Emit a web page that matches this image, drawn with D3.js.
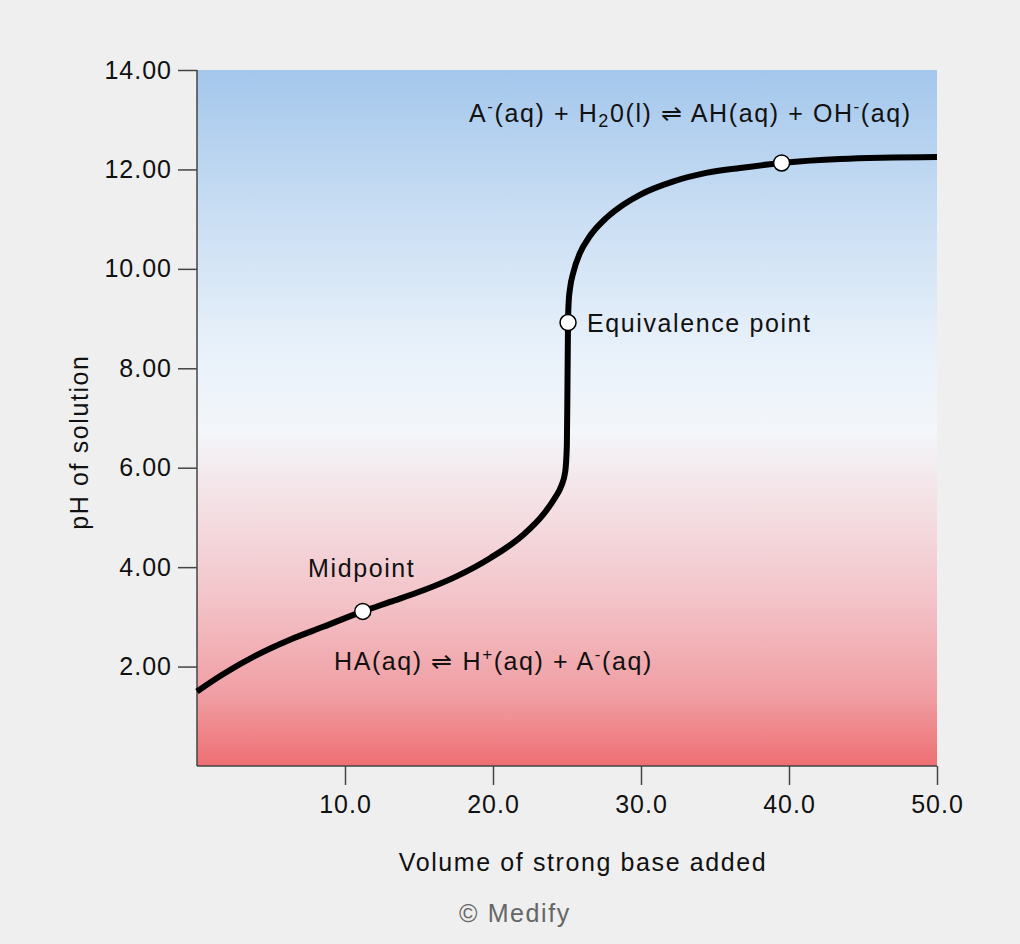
<!DOCTYPE html>
<html>
<head>
<meta charset="utf-8">
<script src="https://cdn.jsdelivr.net/npm/d3@7"></script>
<style>
html,body{margin:0;padding:0;background:#efefef;}
svg{display:block;}
text{font-family:"Liberation Sans","Helvetica Neue",Arial,sans-serif;fill:#111;}
</style>
</head>
<body>
<svg id="chart" width="1020" height="944"></svg>
<script>
// Data
const volume = [0, 1.78, 4.03, 6.28, 8.53, 11.2, 13.04, 15.3, 17.5, 19.8, 22.05, 23.4, 24.2, 24.6, 24.88, 24.99, 25.03, 25.07, 25.11, 25.2, 25.43, 25.88, 26.55, 27.68, 28.8, 29.93, 32.2, 34.4, 36.7, 39.5, 43.45, 50];
const pH     = [1.50, 1.85, 2.23, 2.54, 2.80, 3.11, 3.30, 3.535, 3.81, 4.18, 4.65, 5.06, 5.40, 5.62, 5.92, 6.45, 7.6, 8.92, 9.32, 9.60, 9.93, 10.32, 10.66, 11.03, 11.29, 11.49, 11.76, 11.93, 12.03, 12.13, 12.21, 12.25];
const markedPoints = [{v:11.2, p:3.11, label:"Midpoint"}, {v:25.07, p:8.92, label:"Equivalence point"}, {v:39.5, p:12.13, label:""}];
const xTicks = [10, 20, 30, 40, 50];
const yTicks = [2, 4, 6, 8, 10, 12, 14];

const svg = d3.select("#chart");
const L = 197, R = 937, T = 70, B = 766;
const x = d3.scaleLinear().domain([0, 50]).range([L, R]);
const y = d3.scaleLinear().domain([0, 14]).range([B, T]);
const FS = "25px";
const LS = "1.6px";

// Gradient background
const defs = svg.append("defs");
const grad = defs.append("linearGradient").attr("id","bg").attr("x1",0).attr("y1",0).attr("x2",0).attr("y2",1);
[[0,"#a4c7ec"],[0.2,"#c8ddf3"],[0.4,"#e8f1fa"],[0.52,"#f3f6fa"],[0.6,"#f4e5e9"],[0.75,"#f3c6cb"],[0.9,"#f09ea3"],[1,"#ee6e72"]]
  .forEach(([o,c]) => grad.append("stop").attr("offset",o).attr("stop-color",c));
svg.append("rect").attr("x",L).attr("y",T).attr("width",R-L).attr("height",B-T).attr("fill","url(#bg)");

// Axes
const fmtY = d3.format(".2f"), fmtX = d3.format(".1f");
const yAxis = svg.append("g").attr("transform",`translate(${L},0)`)
  .call(d3.axisLeft(y).tickValues(yTicks).tickSize(19).tickPadding(6).tickFormat(fmtY));
const xAxis = svg.append("g").attr("transform",`translate(0,${B})`)
  .call(d3.axisBottom(x).tickValues(xTicks).tickSize(19).tickPadding(10).tickFormat(fmtX));
[yAxis, xAxis].forEach(g => {
  g.select(".domain").attr("stroke","#444").attr("stroke-width",1.5);
  g.selectAll(".tick line").attr("stroke","#444").attr("stroke-width",1.5);
  g.selectAll(".tick text").style("font-size",FS).attr("fill","#111")
    .style("font-family",'"Liberation Sans",Arial,sans-serif').style("letter-spacing","1px");
});
yAxis.select(".domain").attr("d",`M0,${B}V${T}`);
xAxis.select(".domain").attr("d",`M${L},0H${R}`);

// Curve
const line = d3.line().x((d,i)=>x(volume[i])).y((d,i)=>y(pH[i])).curve(d3.curveMonotoneX);
svg.append("path").datum(pH).attr("d",line).attr("fill","none").attr("stroke","#000").attr("stroke-width",6).attr("stroke-linecap","butt");

// Points
svg.selectAll("circle.pt").data(markedPoints).join("circle")
  .attr("cx",d=>x(d.v)).attr("cy",d=>y(d.p)).attr("r",8)
  .attr("fill","#fff").attr("stroke","#000").attr("stroke-width",1.5);

// Labels
svg.append("text").attr("x",x(markedPoints[0].v)-1).attr("y",y(markedPoints[0].p)-34).attr("text-anchor","middle")
  .style("font-size",FS).style("letter-spacing",LS).text(markedPoints[0].label);
svg.append("text").attr("x",x(markedPoints[1].v)+19).attr("y",y(markedPoints[1].p)+9)
  .style("font-size",FS).style("letter-spacing",LS).text(markedPoints[1].label);

function equation(xPos, yPos, parts){
  const t = svg.append("text").attr("x",xPos).attr("y",yPos).style("font-size",FS).style("letter-spacing",LS);
  parts.forEach(p => {
    const s = t.append("tspan").text(p.t);
    if (p.sup) s.attr("dy",-10).style("font-size","17px");
    if (p.sub) s.attr("dy",5).style("font-size","18px");
    if (p.back) s.attr("dy",p.back);
  });
  return t;
}
equation(469, 122, [{t:"A"},{t:"-",sup:1},{t:"(aq) + H",back:10},{t:"2",sub:1},{t:"0(l) ⇌ AH(aq) + OH",back:-5},{t:"-",sup:1},{t:"(aq)",back:10}]);
equation(334, 670, [{t:"HA(aq) ⇌ H"},{t:"+",sup:1},{t:"(aq) + A",back:10},{t:"-",sup:1},{t:"(aq)",back:10}]);

// Axis titles
svg.append("text").attr("x",583).attr("y",871).attr("text-anchor","middle")
  .style("font-size",FS).style("letter-spacing",LS).text("Volume of strong base added");
svg.append("text").attr("transform",`translate(88,${442}) rotate(-90)`).attr("text-anchor","middle")
  .style("font-size",FS).style("letter-spacing",LS).text("pH of solution");
svg.append("text").attr("x",515).attr("y",922).attr("text-anchor","middle")
  .style("font-size",FS).style("letter-spacing",LS).style("fill","#666").text("© Medify");
</script>
</body>
</html>
